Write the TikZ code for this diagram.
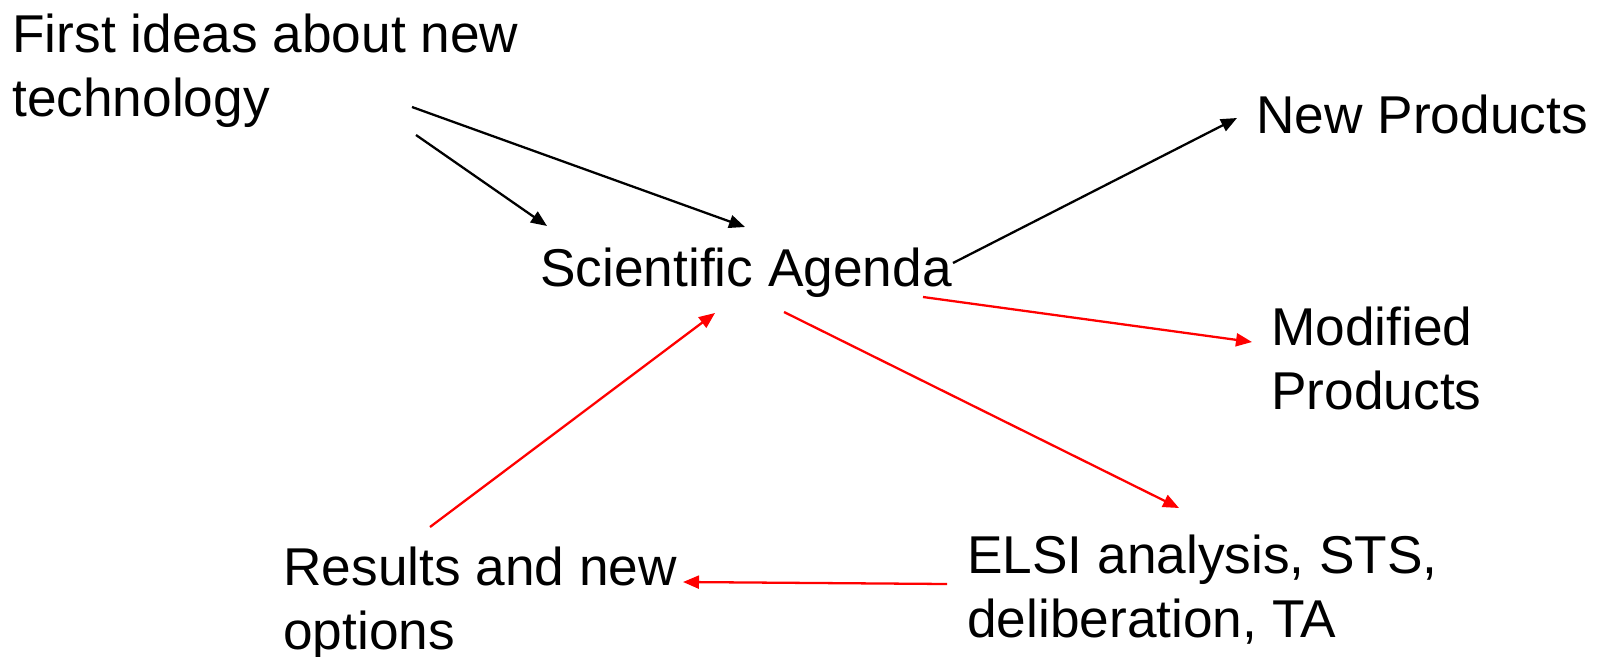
\documentclass[tikz,border=0pt]{standalone}
\usepackage{fontspec}
\setmainfont{Liberation Sans}
\usetikzlibrary{arrows.meta}

\begin{document}
\begin{tikzpicture}[x=0.02cm,y=-0.02cm,
    txt/.style={anchor=north west,inner sep=0pt,align=left,font={\fontsize{30.3}{35.9}\selectfont}},
    arr/.style={line width=1.3pt,-{Triangle[length=0.32cm,width=0.26cm]}}]
\useasboundingbox (0,0) rectangle (1599,656);
% texts
\node[txt] (idea) at (12,14) {First ideas about new\\technology};
\node[txt] (agenda) at (540,248) {Scientific Agenda};
\node[txt] (newprod) at (1256,95) {New Products};
\node[txt] (modprod) at (1271,307) {Modified\\Products};
\node[txt] (elsi) at (967,535) {ELSI analysis, STS,\\deliberation, TA};
\node[txt] (results) at (283,547) {Results and new\\options};
% arrow ends
\coordinate (ia) at (412,107);  \coordinate (ib) at (745,227);
\coordinate (ja) at (416,135);  \coordinate (jb) at (547,226);
\coordinate (na) at (953,263);  \coordinate (nb) at (1237,118);
\coordinate (ma) at (923,297);  \coordinate (mb) at (1252,342);
\coordinate (ea) at (784,312);  \coordinate (eb) at (1179,508);
\coordinate (ra) at (947,584);  \coordinate (rb) at (683,582);
\coordinate (ua) at (430,527);  \coordinate (ub) at (715,313);
% black arrows
\draw[arr] (ia) -- (ib);
\draw[arr] (ja) -- (jb);
\draw[arr] (na) -- (nb);
% red arrows
\draw[arr,red] (ma) -- (mb);
\draw[arr,red] (ea) -- (eb);
\draw[arr,red] (ra) -- (rb);
\draw[arr,red] (ua) -- (ub);
\end{tikzpicture}
\end{document}
